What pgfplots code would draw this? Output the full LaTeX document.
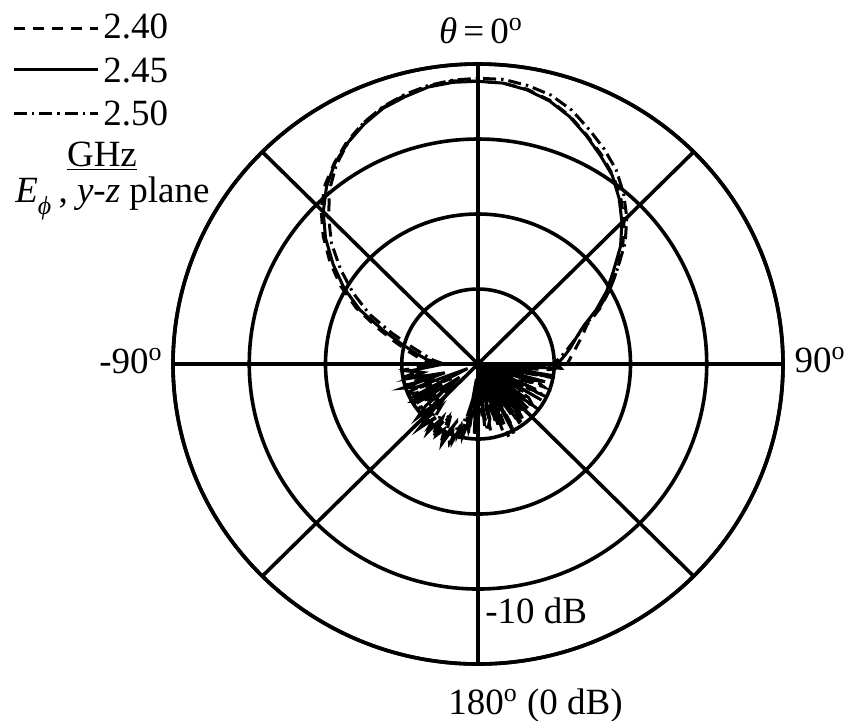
\documentclass[border=0pt]{standalone}
\usepackage{fontspec}
\setmainfont{Liberation Serif}
\usepackage{pgfplots}
\usepackage{pgfplotstable}
\pgfplotsset{compat=1.18}
\usepgfplotslibrary{polar}

% E_phi radiation pattern in the y-z plane, theta in degrees (0 = up, 90 = right), level in dB
\pgfplotstableread{
theta db
-90 -35.5
-85 -33.3
-80 -31.7
-75 -29.6
-70 -26.7
-65 -22.9
-60 -19.7
-55 -16.8
-50 -13.9
-45 -11.3
-40 -9.1
-35 -7.3
-30 -5.9
-25 -4.7
-20 -3.7
-15 -3.1
-10 -2.5
-5 -2.3
0 -2.3
5 -2.4
10 -2.9
15 -3.7
20 -4.9
25 -6.4
30 -7.9
35 -9.3
40 -11.2
45 -13.3
50 -15.6
55 -18.3
60 -20.5
65 -22.9
70 -25.3
75 -26.7
80 -27.7
85 -28.7
90 -29.6
93 -29.1
96 -37.5
99 -30.0
102 -39.0
105 -30.9
108 -33.5
111 -39.5
114 -31.7
117 -38.0
120 -30.4
123 -39.8
126 -32.3
129 -37.0
132 -31.2
135 -40.0
138 -33.1
141 -30.7
144 -38.5
147 -32.0
150 -36.5
153 -29.6
156 -39.0
159 -33.3
162 -31.5
165 -39.5
168 -32.7
171 -38.0
174 -31.7
177 -40.0
180 -33.6
183 -30.7
186 -38.0
189 -32.3
192 -30.0
195 -31.5
198 -29.1
201 -30.8
204 -28.3
207 -30.2
210 -29.0
213 -31.5
216 -28.7
219 -30.5
222 -28.4
225 -33.0
228 -29.3
231 -31.2
234 -37.0
237 -30.4
240 -33.3
243 -29.9
246 -38.5
249 -31.5
252 -29.6
255 -35.5
258 -30.7
261 -32.7
264 -30.9
267 -34.0
270 -35.5
}\patternB

\pgfplotstableread{
theta db
-90 -34.4
-85 -32.5
-80 -30.9
-75 -28.8
-70 -26.0
-65 -22.4
-60 -19.2
-55 -16.3
-50 -13.5
-45 -10.9
-40 -8.8
-35 -7.2
-30 -5.7
-25 -4.5
-20 -3.6
-15 -2.9
-10 -2.4
-5 -2.1
0 -2.3
5 -2.4
10 -2.8
15 -3.6
20 -4.8
25 -6.3
30 -7.7
35 -9.2
40 -10.9
45 -12.9
50 -15.2
55 -17.6
60 -20.0
65 -22.3
70 -24.8
75 -25.9
80 -26.9
85 -27.7
90 -28.3
94.5 -30.5
97.5 -36.0
100.5 -29.8
103.5 -38.0
106.5 -32.0
109.5 -30.8
112.5 -39.0
115.5 -31.0
118.5 -35.5
121.5 -32.5
124.5 -38.5
127.5 -30.0
130.5 -36.5
133.5 -32.8
136.5 -39.0
139.5 -31.5
142.5 -34.0
145.5 -30.2
148.5 -38.0
151.5 -31.0
154.5 -35.0
157.5 -29.5
160.5 -37.5
163.5 -32.0
166.5 -36.0
169.5 -31.0
172.5 -39.5
175.5 -33.0
178.5 -36.5
181.5 -31.8
184.5 -37.0
187.5 -30.6
190.5 -33.8
193.5 -29.5
196.5 -31.0
199.5 -28.8
202.5 -30.0
205.5 -29.2
208.5 -31.8
211.5 -28.5
214.5 -30.8
217.5 -29.4
220.5 -32.5
223.5 -29.0
226.5 -30.6
229.5 -35.0
232.5 -30.0
235.5 -32.8
238.5 -29.8
241.5 -36.0
244.5 -31.0
247.5 -29.5
250.5 -34.5
253.5 -30.2
256.5 -33.0
259.5 -29.9
262.5 -32.0
265.5 -30.5
268.5 -33.5
270 -34.4
}\patternA

\pgfplotstableread{
theta db
-90 -35.5
-85 -34.1
-80 -32.8
-75 -30.9
-70 -28.0
-65 -24.3
-60 -21.1
-55 -18.0
-50 -14.9
-45 -12.3
-40 -9.7
-35 -7.6
-30 -5.9
-25 -4.5
-20 -3.5
-15 -2.8
-10 -2.3
-5 -2.0
0 -1.9
5 -1.9
10 -2.3
15 -2.9
20 -4.0
25 -5.5
30 -6.9
35 -8.4
40 -10.3
45 -12.4
50 -14.8
55 -17.6
60 -20.0
65 -22.5
70 -25.1
75 -26.7
80 -28.0
85 -29.1
90 -30.1
92 -31.0
96 -35.0
100 -30.5
104 -37.0
108 -31.5
112 -34.5
116 -30.0
120 -38.0
124 -32.0
128 -30.8
132 -36.5
136 -31.2
140 -33.5
144 -30.4
148 -37.5
152 -31.8
156 -34.0
160 -30.6
164 -38.5
168 -32.5
172 -31.0
176 -36.0
180 -32.0
184 -34.5
188 -31.2
192 -33.0
196 -30.0
200 -31.8
204 -29.6
208 -32.5
212 -30.0
216 -31.5
220 -29.8
224 -33.5
228 -30.5
232 -34.5
236 -31.0
240 -30.0
244 -35.0
248 -31.5
252 -30.3
256 -33.5
260 -31.0
264 -32.0
268 -33.0
270 -35.5
}\patternC

\tikzset{
  f240/.style={black, line width=1.5pt, dash pattern=on 5.5pt off 4pt},
  f245/.style={black, line width=1.5pt},
  f250/.style={black, line width=1.5pt, dash pattern=on 6.5pt off 2.5pt on 1.2pt off 2.5pt},
}

\begin{document}
\fontsize{18.5}{22}\selectfont
\begin{tikzpicture}[x=0.5pt, y=0.5pt]
\begin{polaraxis}[
  at={(0,0)}, anchor=center,
  scale only axis, width=305pt, height=300pt,
  xmin=0, xmax=360, ymin=0, ymax=40,
  xtick={0,45,...,315}, ytick={10,20,30,40},
  xticklabels={}, yticklabels={},
  major tick length=0pt,
  grid=major,
  major grid style={black, line width=1.8pt},
  axis line style={black, line width=1.8pt},
  clip=false,
]
\addplot[f240] table[x expr={90-\thisrow{theta}}, y expr={max(\thisrow{db}+40,0)}] {\patternA};
\addplot[f245] table[x expr={90-\thisrow{theta}}, y expr={max(\thisrow{db}+40,0)}] {\patternB};
\addplot[f250] table[x expr={90-\thisrow{theta}}, y expr={max(\thisrow{db}+40,0)}] {\patternC};
\end{polaraxis}

% angle and level labels
\node[anchor=base] at (3,321) {{\itshape θ}\,=\,0\textsuperscript{o}};
\node[anchor=base] at (-347,-9) {-90\textsuperscript{o}};
\node[anchor=base] at (342,-8) {90\textsuperscript{o}};
\node[anchor=base west, inner sep=0pt] at (7,-259) {-10 dB};
\node[anchor=base west, inner sep=0pt] at (-30,-350) {180\textsuperscript{o} (0 dB)};

% legend
\draw[f240] (-464,336) -- (-380,336);
\draw[f245] (-464,295) -- (-380,295);
\draw[f250] (-464,251) -- (-380,251);
\node[anchor=base west, inner sep=0pt] at (-375,326) {2.40};
\node[anchor=base west, inner sep=0pt] at (-375,282) {2.45};
\node[anchor=base west, inner sep=0pt] at (-375,239) {2.50};
\node[anchor=base, inner sep=0pt] at (-376,198) {\underline{GHz}};
\node[anchor=base west, inner sep=0pt] at (-463,162) {{\itshape E}\raisebox{-0.35ex}{\textsubscript{\itshape ϕ}}\,, {\itshape y}-{\itshape z} plane};

\pgfresetboundingbox
\useasboundingbox (-478,-356) rectangle (371,364);
\end{tikzpicture}
\end{document}
